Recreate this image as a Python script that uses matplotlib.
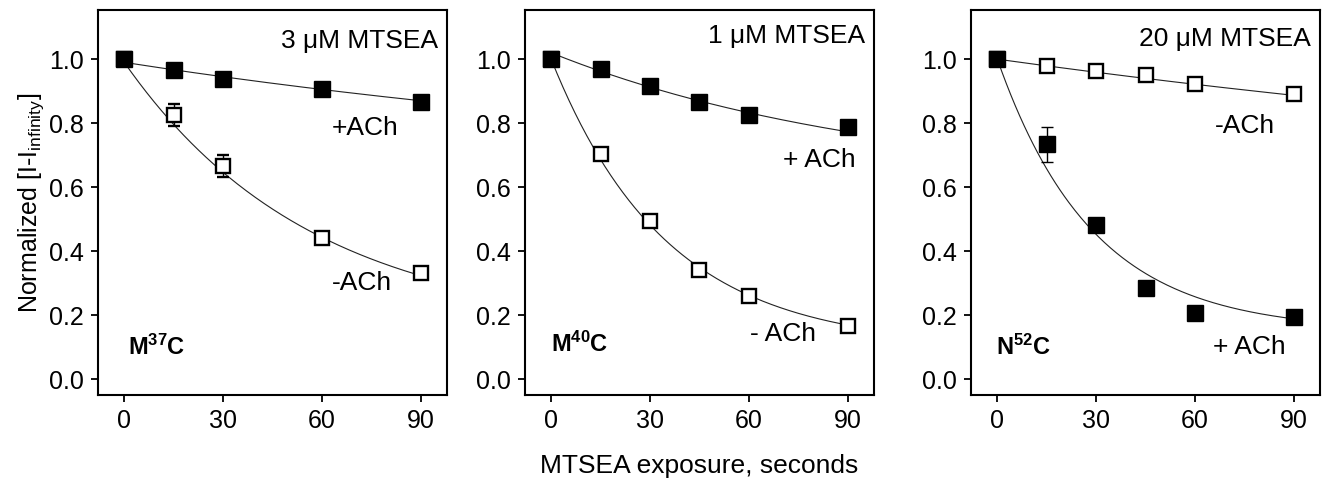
import numpy as np
from matplotlib import pyplot as plt

plt.rcParams['font.family'] = ['Liberation Sans', 'DejaVu Sans']
plt.rcParams['mathtext.fontset'] = 'custom'
plt.rcParams['mathtext.rm'] = 'Liberation Sans'
plt.rcParams['mathtext.it'] = 'Liberation Sans:italic'
plt.rcParams['mathtext.bf'] = 'Liberation Sans:bold'

# panel 1: M37C, 3 uM MTSEA
t1 = [0, 15, 30, 60, 90]
p1_plus = [1.0, 0.966, 0.937, 0.908, 0.865]
p1_plus_err = [0.0, 0.008, 0.018, 0.008, 0.018]
p1_minus = [1.0, 0.825, 0.666, 0.441, 0.333]
p1_minus_err = [0.0, 0.035, 0.034, 0.008, 0.008]

# panel 2: M40C, 1 uM MTSEA
t2 = [0, 15, 30, 45, 60, 90]
p2_plus = [1.0, 0.969, 0.916, 0.865, 0.825, 0.788]
p2_plus_err = [0.0, 0.008, 0.008, 0.008, 0.018, 0.02]
p2_minus = [1.0, 0.704, 0.495, 0.341, 0.260, 0.166]
p2_minus_err = [0.0, 0.006, 0.006, 0.006, 0.006, 0.006]

# panel 3: N52C, 20 uM MTSEA
t3 = [0, 15, 30, 45, 60, 90]
p3_minus = [1.0, 0.979, 0.963, 0.949, 0.922, 0.890]
p3_minus_err = [0.0, 0.006, 0.012, 0.008, 0.01, 0.008]
p3_plus = [1.0, 0.734, 0.480, 0.285, 0.205, 0.193]
p3_plus_err = [0.0, 0.055, 0.006, 0.006, 0.015, 0.006]

# single exponential fits: offset, amplitude, tau (s)
fit1_plus = (0.60, 0.39, 245.0)
fit1_minus = (0.15, 0.84, 57.0)
fit2_plus = (0.60, 0.42, 101.5)
fit2_minus = (0.10, 0.90, 35.0)
fit3_minus = (0.50, 0.50, 351.0)
fit3_plus = (0.15, 0.85, 29.0)

fig = plt.figure(figsize=(13.22, 4.78), dpi=100)
lefts = [0.0741, 0.397, 0.7345]
axes = [fig.add_axes([l, 0.1736, 0.264, 0.805]) for l in lefts]

tt = np.linspace(0, 90, 200)


def fit_curve(ax, p):
    c, a, tau = p
    ax.plot(tt, c + a * np.exp(-tt / tau), color='#222222', lw=0.8, zorder=1)


def pts(ax, x, y, e, filled):
    ax.errorbar(x, y, yerr=e, fmt='s', ms=11 if filled else 9.5,
                mfc='black' if filled else 'white', mec='black',
                mew=1.0 if filled else 1.7, ecolor='black', elinewidth=1.0,
                capsize=4.5, capthick=1.0, zorder=3)


ax = axes[0]
fit_curve(ax, fit1_plus)
fit_curve(ax, fit1_minus)
pts(ax, t1, p1_minus, p1_minus_err, False)
pts(ax, t1, p1_plus, p1_plus_err, True)
ax.text(0.974, 0.92, '3 μM MTSEA', transform=ax.transAxes, ha='right', va='center', fontsize=19)
ax.text(63, 0.785, '+ACh', ha='left', va='center', fontsize=19)
ax.text(63, 0.30, '-ACh', ha='left', va='center', fontsize=19)
ax.text(1, 0.10, r'M$^{\mathbf{37}}$C', ha='left', va='center', fontsize=17, fontweight='bold')
ax.set_ylabel(r'Normalized [I-I$_{\mathrm{infinity}}$]', fontsize=18, labelpad=2)

ax = axes[1]
fit_curve(ax, fit2_plus)
fit_curve(ax, fit2_minus)
pts(ax, t2, p2_minus, p2_minus_err, False)
pts(ax, t2, p2_plus, p2_plus_err, True)
ax.text(0.974, 0.933, '1 μM MTSEA', transform=ax.transAxes, ha='right', va='center', fontsize=19)
ax.text(70.5, 0.685, '+ ACh', ha='left', va='center', fontsize=19)
ax.text(60.5, 0.14, '- ACh', ha='left', va='center', fontsize=19)
ax.text(0, 0.11, r'M$^{\mathbf{40}}$C', ha='left', va='center', fontsize=17, fontweight='bold')
ax.set_xlabel('MTSEA exposure, seconds', fontsize=19, labelpad=15)

ax = axes[2]
fit_curve(ax, fit3_minus)
fit_curve(ax, fit3_plus)
pts(ax, t3, p3_minus, p3_minus_err, False)
pts(ax, t3, p3_plus, p3_plus_err, True)
ax.text(0.974, 0.925, '20 μM MTSEA', transform=ax.transAxes, ha='right', va='center', fontsize=19)
ax.text(66, 0.79, '-ACh', ha='left', va='center', fontsize=19)
ax.text(65.5, 0.10, '+ ACh', ha='left', va='center', fontsize=19)
ax.text(-0.5, 0.10, r'N$^{\mathbf{52}}$C', ha='left', va='center', fontsize=17, fontweight='bold')

for ax in axes:
    ax.set_xlim(-8, 98)
    ax.set_ylim(-0.05, 1.153)
    ax.set_xticks([0, 30, 60, 90])
    ax.set_yticks([0.0, 0.2, 0.4, 0.6, 0.8, 1.0])
    ax.set_yticklabels(['0.0', '0.2', '0.4', '0.6', '0.8', '1.0'])
    ax.tick_params(direction='out', length=5, width=1.3, labelsize=18, pad=5)
    for s in ax.spines.values():
        s.set_linewidth(1.5)

fig.savefig('out.png', dpi=100)
